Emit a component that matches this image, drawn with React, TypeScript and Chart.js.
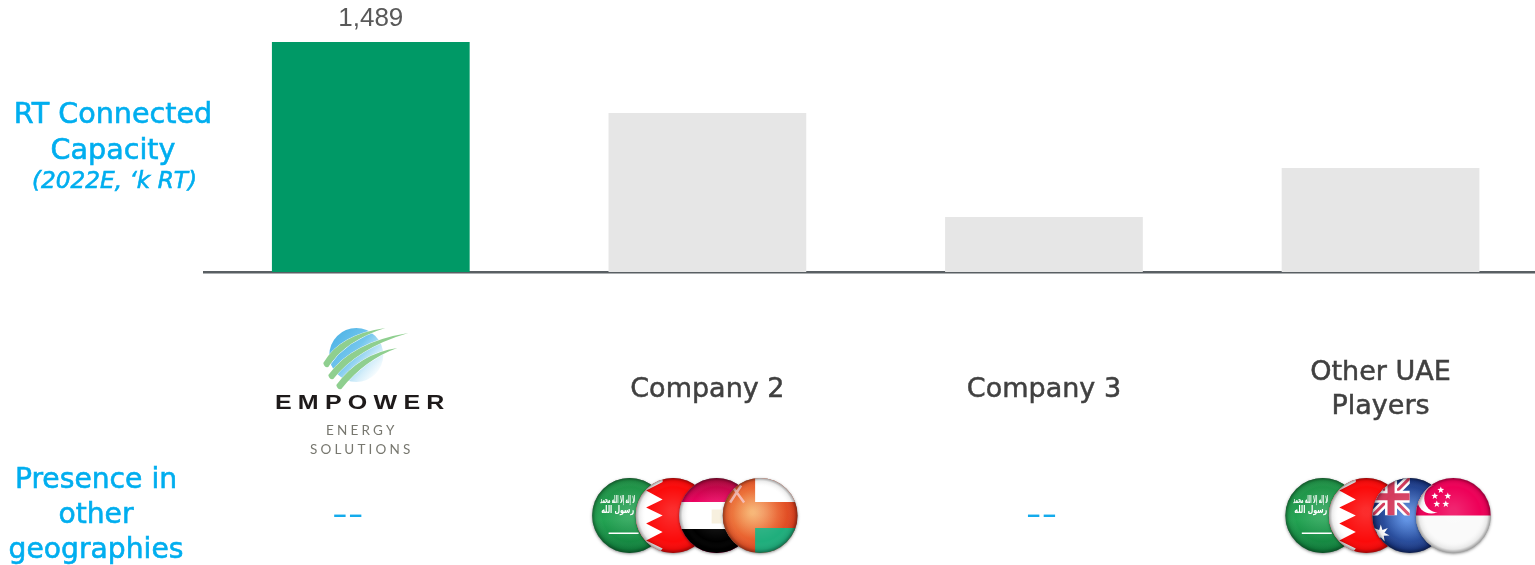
import React, { useEffect, useRef } from "react";
import { Chart, registerables } from "chart.js";

Chart.register(...registerables);

// Connected cooling capacity per operator, thousand RT.
const categories = ["Empower", "Company 2", "Company 3", "Other UAE Players"];
const capacity = [1489, 1029, 356, 673];
const labelledBars = [true, false, false, false];
const barColors = ["#009966", "#E6E6E6", "#E6E6E6", "#E6E6E6"];
const tickLabels = [[""], ["Company 2"], ["Company 3"], ["Other UAE", "Players"]];
const presence = [[], ["SA", "BH", "EG", "OM"], [], ["SA", "BH", "AU", "SG"]];
const clusterShift = [-23, -12.5, -2.5, 7.5];
const headingLines = ["RT Connected", "Capacity"];
const headingNote = "(2022E, ‘k RT)";
const presenceLines = ["Presence in", "other", "geographies"];

const CYAN = "#00AEEF";
const FONT = '"DejaVu Sans", sans-serif';
const R = 37.5;

type Ctx = CanvasRenderingContext2D;

function saudi(c: Ctx, x: number, y: number, r: number) {
  const g = c.createLinearGradient(x, y - r, x, y + r);
  g.addColorStop(0, "#1f8f45");
  g.addColorStop(0.55, "#22a352");
  g.addColorStop(1, "#0f7c3a");
  c.fillStyle = g;
  c.fillRect(x - r, y - r, r * 2, r * 2);
  c.fillStyle = "#fff";
  c.font = `bold 10px ${FONT}`;
  c.textAlign = "center";
  c.textBaseline = "middle";
  c.fillText("لا إله إلا الله محمد", x - 12, y - 15, 35);
  c.fillText("رسول الله", x - 12, y - 5, 33);
  c.fillRect(x - 21, y + 17, 30, 1.5);
}

function bahrain(c: Ctx, x: number, y: number, r: number) {
  c.fillStyle = "#fb0a0a";
  c.fillRect(x - r, y - r, r * 2, r * 2);
  c.fillStyle = "#fff";
  c.beginPath();
  c.moveTo(x - r, y - r);
  c.lineTo(x - 10.5, y - r);
  [[-10.5, -33.5], [-27, -25], [-10.5, -16], [-27, -8], [-10.5, 0], [-27, 8], [-10.5, 16.5], [-27, 25], [-10.5, 33], [-14, r]].forEach(
    ([dx, dy]) => c.lineTo(x + dx, y + dy)
  );
  c.lineTo(x - r, y + r);
  c.closePath();
  c.fill();
}

function egypt(c: Ctx, x: number, y: number, r: number) {
  const g = c.createLinearGradient(x, y - r, x, y - 13);
  g.addColorStop(0, "#a80a3c");
  g.addColorStop(1, "#ee0060");
  c.fillStyle = g;
  c.fillRect(x - r, y - r, r * 2, r * 2);
  c.fillStyle = "#fff";
  c.fillRect(x - r, y - 13.5, r * 2, 27);
  c.fillStyle = "#f6eeda";
  c.fillRect(x - 5, y - 6, 10, 14);
  c.fillStyle = "#000";
  c.fillRect(x - r, y + 13.5, r * 2, r);
}

function oman(c: Ctx, x: number, y: number, r: number) {
  const g = c.createRadialGradient(x - 8, y - 3, 2, x - 8, y - 3, r * 1.2);
  g.addColorStop(0, "#f6ad66");
  g.addColorStop(0.55, "#e9622f");
  g.addColorStop(1, "#d93a1b");
  c.fillStyle = g;
  c.fillRect(x - r, y - r, r * 2, r * 2);
  c.fillStyle = "#fff";
  c.fillRect(x - 5, y - r, r + 5, 24);
  c.fillStyle = "#1fae7c";
  c.fillRect(x - 5, y + 12.5, r + 5, r);
  c.strokeStyle = "#f6b8b0";
  c.lineWidth = 2.5;
  c.beginPath();
  c.moveTo(x - 30, y - 13);
  c.lineTo(x - 19, y - 30);
  c.moveTo(x - 16, y - 13);
  c.lineTo(x - 27, y - 28);
  c.stroke();
}

function star(c: Ctx, x: number, y: number, size: number, col: string, points = 5) {
  c.fillStyle = col;
  c.beginPath();
  for (let i = 0; i < points * 2; i++) {
    const a = -Math.PI / 2 + (i * Math.PI) / points;
    const d = i % 2 ? size * 0.42 : size;
    c.lineTo(x + Math.cos(a) * d, y + Math.sin(a) * d);
  }
  c.closePath();
  c.fill();
}

function australia(c: Ctx, x: number, y: number, r: number) {
  const g = c.createRadialGradient(x - 3, y + 2, 3, x, y, r);
  g.addColorStop(0, "#4f86e0");
  g.addColorStop(1, "#152f78");
  c.fillStyle = g;
  c.fillRect(x - r, y - r, r * 2, r * 2);
  c.save();
  c.beginPath();
  c.rect(x - r, y - r, r, r);
  c.clip();
  const x0 = x - r;
  const y0 = y - r;
  const diagonal = (w: number, col: string) => {
    c.strokeStyle = col;
    c.lineWidth = w;
    c.beginPath();
    c.moveTo(x0, y0);
    c.lineTo(x, y);
    c.moveTo(x, y0);
    c.lineTo(x0, y);
    c.stroke();
  };
  diagonal(8, "#fff");
  diagonal(3, "#d43a5c");
  c.fillStyle = "#fff";
  c.fillRect(x0, y0 + r / 2 - 6, r, 12);
  c.fillRect(x0 + r / 2 - 6, y0, 12, r);
  c.fillStyle = "#d43a5c";
  c.fillRect(x0, y0 + r / 2 - 3.5, r, 7);
  c.fillRect(x0 + r / 2 - 3.5, y0, 7, r);
  c.restore();
  star(c, x - 29, y + 18, 9, "#fff", 7);
}

function singapore(c: Ctx, x: number, y: number, r: number) {
  c.fillStyle = "#fafafa";
  c.fillRect(x - r, y - r, r * 2, r * 2);
  c.fillStyle = "#ee0058";
  c.fillRect(x - r, y - r, r * 2, r);
  c.fillStyle = "#fff";
  c.beginPath();
  c.arc(x - 22, y - 16, 14, 0, Math.PI * 2);
  c.fill();
  c.fillStyle = "#ee0058";
  c.beginPath();
  c.arc(x - 15, y - 17, 14, 0, Math.PI * 2);
  c.fill();
  [[-12.5, -25.5], [-18.5, -19.5], [-5.5, -19.5], [-16.5, -11.5], [-7.5, -11.5]].forEach(([dx, dy]) =>
    star(c, x + dx, y + dy, 3.6, "#fff")
  );
}

const painters: Record<string, (c: Ctx, x: number, y: number, r: number) => void> = {
  SA: saudi,
  BH: bahrain,
  EG: egypt,
  OM: oman,
  AU: australia,
  SG: singapore,
};

// One glossy round flag badge.
function badge(c: Ctx, code: string, x: number, y: number) {
  c.save();
  c.shadowColor = "rgba(0,0,0,0.45)";
  c.shadowBlur = 3;
  c.shadowOffsetY = 1;
  c.fillStyle = "#888";
  c.beginPath();
  c.arc(x, y, R, 0, Math.PI * 2);
  c.fill();
  c.restore();

  c.save();
  c.beginPath();
  c.arc(x, y, R, 0, Math.PI * 2);
  c.clip();
  painters[code](c, x, y, R);
  const light = c.createRadialGradient(x, y - 4, R * 0.1, x, y, R);
  light.addColorStop(0, "rgba(255,255,255,0.14)");
  light.addColorStop(0.7, "rgba(255,255,255,0)");
  light.addColorStop(0.9, "rgba(0,0,0,0.08)");
  light.addColorStop(1, "rgba(0,0,0,0.38)");
  c.fillStyle = light;
  c.fillRect(x - R, y - R, R * 2, R * 2);
  c.restore();
}

function swoosh(c: Ctx, tx: number, ty: number, hx: number, hy: number, cx: number, cy: number) {
  c.beginPath();
  c.moveTo(hx, hy);
  c.quadraticCurveTo(cx, cy, tx, ty);
  c.quadraticCurveTo(tx + 1, ty + 5, tx + 5, ty + 4);
  c.quadraticCurveTo(cx + 5, cy + 6, hx, hy);
  c.closePath();
  c.strokeStyle = "rgba(255,255,255,0.8)";
  c.lineWidth = 1;
  c.stroke();
  c.fillStyle = "#8fcf8f";
  c.fill();
}

// Operator mark: sphere, three swooshes and the wordmark.
function logo(c: Ctx, x: number) {
  const sx = x - 14.5;
  const sy = 355;
  const g = c.createLinearGradient(sx - 22, sy - 20, sx + 22, sy + 18);
  g.addColorStop(0, "#4fb4e6");
  g.addColorStop(0.45, "#74c6ee");
  g.addColorStop(0.8, "#d5eefa");
  g.addColorStop(1, "#fbfeff");
  c.fillStyle = g;
  c.beginPath();
  c.arc(sx, sy, 27, 0, Math.PI * 2);
  c.fill();
  swoosh(c, x - 47.5, 363, x + 14.5, 328, x - 31, 334.5);
  swoosh(c, x - 42.5, 375, x + 37.5, 333, x - 18.5, 342);
  swoosh(c, x - 34.5, 385, x + 26.5, 348, x - 11, 353.5);

  const mid = x - 10;
  c.textAlign = "center";
  c.textBaseline = "middle";
  c.fillStyle = "#1e1a1a";
  c.save();
  c.translate(mid + 2, 403);
  c.scale(1.25, 1);
  c.font = 'bold 20px "Liberation Sans", sans-serif';
  c.letterSpacing = "5px";
  c.fillText("EMPOWER", 0, 0);
  c.restore();
  c.fillStyle = "#77776f";
  c.font = '13.5px "Lato", sans-serif';
  c.letterSpacing = "3.2px";
  c.fillText("ENERGY", mid + 1, 431);
  c.fillText("SOLUTIONS", mid + 1, 450);
  c.letterSpacing = "0px";
}

// Slightly heavier text for the row headings.
function heavy(c: Ctx, text: string, x: number, y: number) {
  c.fillText(text, x, y);
  c.strokeStyle = CYAN;
  c.lineWidth = 0.6;
  c.strokeText(text, x, y);
}

const annotations = {
  id: "annotations",
  beforeDraw(chart: Chart) {
    // The baseline starts a touch to the right of the first category band.
    chart.scales.x.left = chart.chartArea.left + 2;
  },
  afterDraw(chart: Chart) {
    const c = chart.ctx;
    const xs = chart.scales.x;
    const bars = chart.getDatasetMeta(0).data;
    c.save();

    c.textAlign = "center";
    c.textBaseline = "middle";
    c.fillStyle = "#595959";
    c.font = '26px "Liberation Sans", sans-serif';
    capacity.forEach((v, i) => {
      if (labelledBars[i]) c.fillText(v.toLocaleString("en-US"), bars[i].x, bars[i].y - 23);
    });

    c.fillStyle = CYAN;
    c.font = `28.6px ${FONT}`;
    headingLines.forEach((t, i) => heavy(c, t, 113, 116 + i * 36));
    c.font = `italic 23.2px ${FONT}`;
    heavy(c, headingNote, 114.5, 182);
    c.font = `28.2px ${FONT}`;
    presenceLines.forEach((t, i) => heavy(c, t, 96, 481 + i * 35));

    logo(c, xs.getPixelForValue(0));

    presence.forEach((codes, i) => {
      const cx = xs.getPixelForValue(i);
      if (!codes.length) {
        c.textAlign = "center";
        c.textBaseline = "alphabetic";
        c.fillStyle = "#14ABEC";
        c.font = 'bold 23px "Liberation Sans", sans-serif';
        c.letterSpacing = "3px";
        c.fillText("––", cx + clusterShift[i] + 1.5, 521.5);
        c.letterSpacing = "0px";
        return;
      }
      codes.forEach((code, k) => {
        badge(c, code, cx + clusterShift[i] + (k - 1.5) * 43.5, 515.5);
      });
    });
    c.restore();
  },
};

export default function App() {
  const ref = useRef<HTMLCanvasElement>(null);

  useEffect(() => {
    const chart = new Chart(ref.current!, {
      type: "bar",
      data: {
        labels: categories,
        datasets: [
          {
            data: capacity,
            backgroundColor: barColors,
            barPercentage: 0.5875,
            categoryPercentage: 1,
          },
        ],
      },
      plugins: [annotations],
      options: {
        animation: false,
        responsive: false,
        layout: { padding: { left: 202.5, right: 1.5, top: 42, bottom: 0 } },
        plugins: { legend: { display: false }, tooltip: { enabled: false } },
        scales: {
          x: {
            z: 1,
            grid: { display: false, drawTicks: false },
            border: { display: true, color: "#595F63", width: 2.5 },
            afterFit(scale) {
              scale.height = 293;
            },
            ticks: {
              padding: 101,
              maxRotation: 0,
              autoSkip: false,
              crossAlign: "center",
              color: "#404040",
              textStrokeColor: "#404040",
              textStrokeWidth: 0.5,
              font: { family: "DejaVu Sans", size: 27, lineHeight: 34 / 27 },
              callback: (_v, i) => tickLabels[i],
            },
          },
          y: { display: false, min: 0, max: 1489 },
        },
      },
    });
    return () => chart.destroy();
  }, []);

  return (
    <div style={{ position: "absolute", left: 0, top: 0, width: 1535, height: 565, overflow: "hidden", background: "#fff" }}>
      <canvas ref={ref} width={1552} height={565} style={{ display: "block" }} />
    </div>
  );
}
